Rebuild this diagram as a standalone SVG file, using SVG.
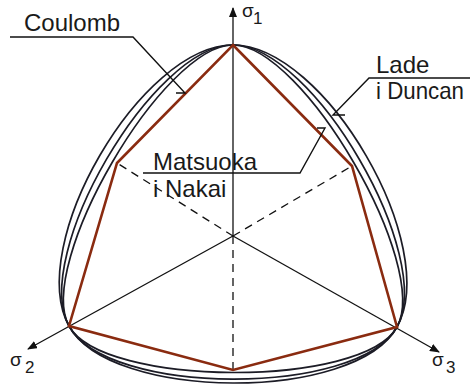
<svg xmlns="http://www.w3.org/2000/svg" width="470" height="386" viewBox="0 0 470 386">
<style>
.curve{fill:none;stroke:#1c1c26;stroke-width:1.7}
.hex{fill:none;stroke:#8a2b10;stroke-width:2.6;stroke-linejoin:miter}
.axis{fill:none;stroke:#111;stroke-width:1.3}
.dash{fill:none;stroke:#111;stroke-width:1.3;stroke-dasharray:8,6}
.lead{fill:none;stroke:#111;stroke-width:1.4}
.lbl{font-family:"Liberation Sans",Arial,sans-serif;font-size:24px;fill:#1a1a1a}
.sig{font-family:"Liberation Sans",Arial,sans-serif;font-size:19px;fill:#1a1a1a}
.sub{font-family:"Liberation Sans",Arial,sans-serif;font-size:17px;fill:#1a1a1a}
</style>
<defs>
<marker id="arr" markerUnits="userSpaceOnUse" markerWidth="10" markerHeight="8" refX="9" refY="4" orient="auto">
<path d="M0,0 L10,4 L0,8 z" fill="#111"/>
</marker>
</defs>
<g id="axes">
<line class="axis" x1="233" y1="236" x2="233" y2="8" marker-end="url(#arr)"/>
<line class="axis" x1="233" y1="236" x2="28" y2="349" marker-end="url(#arr)"/>
<line class="axis" x1="233" y1="236" x2="439" y2="352" marker-end="url(#arr)"/>
<line class="dash" x1="233" y1="236" x2="233" y2="370"/>
<line class="dash" x1="233" y1="236" x2="117" y2="163"/>
<line class="dash" x1="233" y1="236" x2="352" y2="166"/>
</g>
<g id="lade-duncan">
<path class="curve" d="M233,45 C325,45 441.6,246.5 397,327 C355.3,402.25 110.37,401.42 69,326 C24.8,245.3 141,45 233,45 Z"/>
</g>
<g id="matsuoka-nakai">
<path class="curve" d="M233,45 C313,45 435.8,257 397,327 C358.2,397 106.5,396.2 69,326 C30.5,255.8 153,45 233,45 Z"/>
</g>
<g id="inner-curve">
<path class="curve" d="M233,45 C303,45 430.95,265.75 397,327 C363.05,388.25 102.67,387.39 69,326 C35.33,264.61 163,45 233,45 Z"/>
</g>
<g id="coulomb">
<path class="hex" d="M233,45 L352,166 L397,327 L233,370 L69,326 L117,163 Z"/>
</g>
<g id="connectors">
<path class="lead" d="M10,37 H133 L185,93 H176"/>
<path class="lead" d="M470,78 H369 L333,115 H345"/>
<path class="lead" d="M143,173 H300 L325,128 H317"/>
</g>
<g id="labels">
<text class="lbl" x="24" y="31">Coulomb</text>
<text class="lbl" x="376" y="73">Lade</text>
<text class="lbl" x="376" y="99" textLength="88" lengthAdjust="spacingAndGlyphs">i Duncan</text>
<text class="lbl" x="153" y="170">Matsuoka</text>
<text class="lbl" x="153" y="197">i Nakai</text>
<text class="sig" x="242" y="17">σ</text><text class="sub" x="253" y="24">1</text>
<text class="sig" x="10" y="366">σ</text><text class="sub" x="25" y="373">2</text>
<text class="sig" x="432" y="366">σ</text><text class="sub" x="446" y="373">3</text>
</g>
</svg>
